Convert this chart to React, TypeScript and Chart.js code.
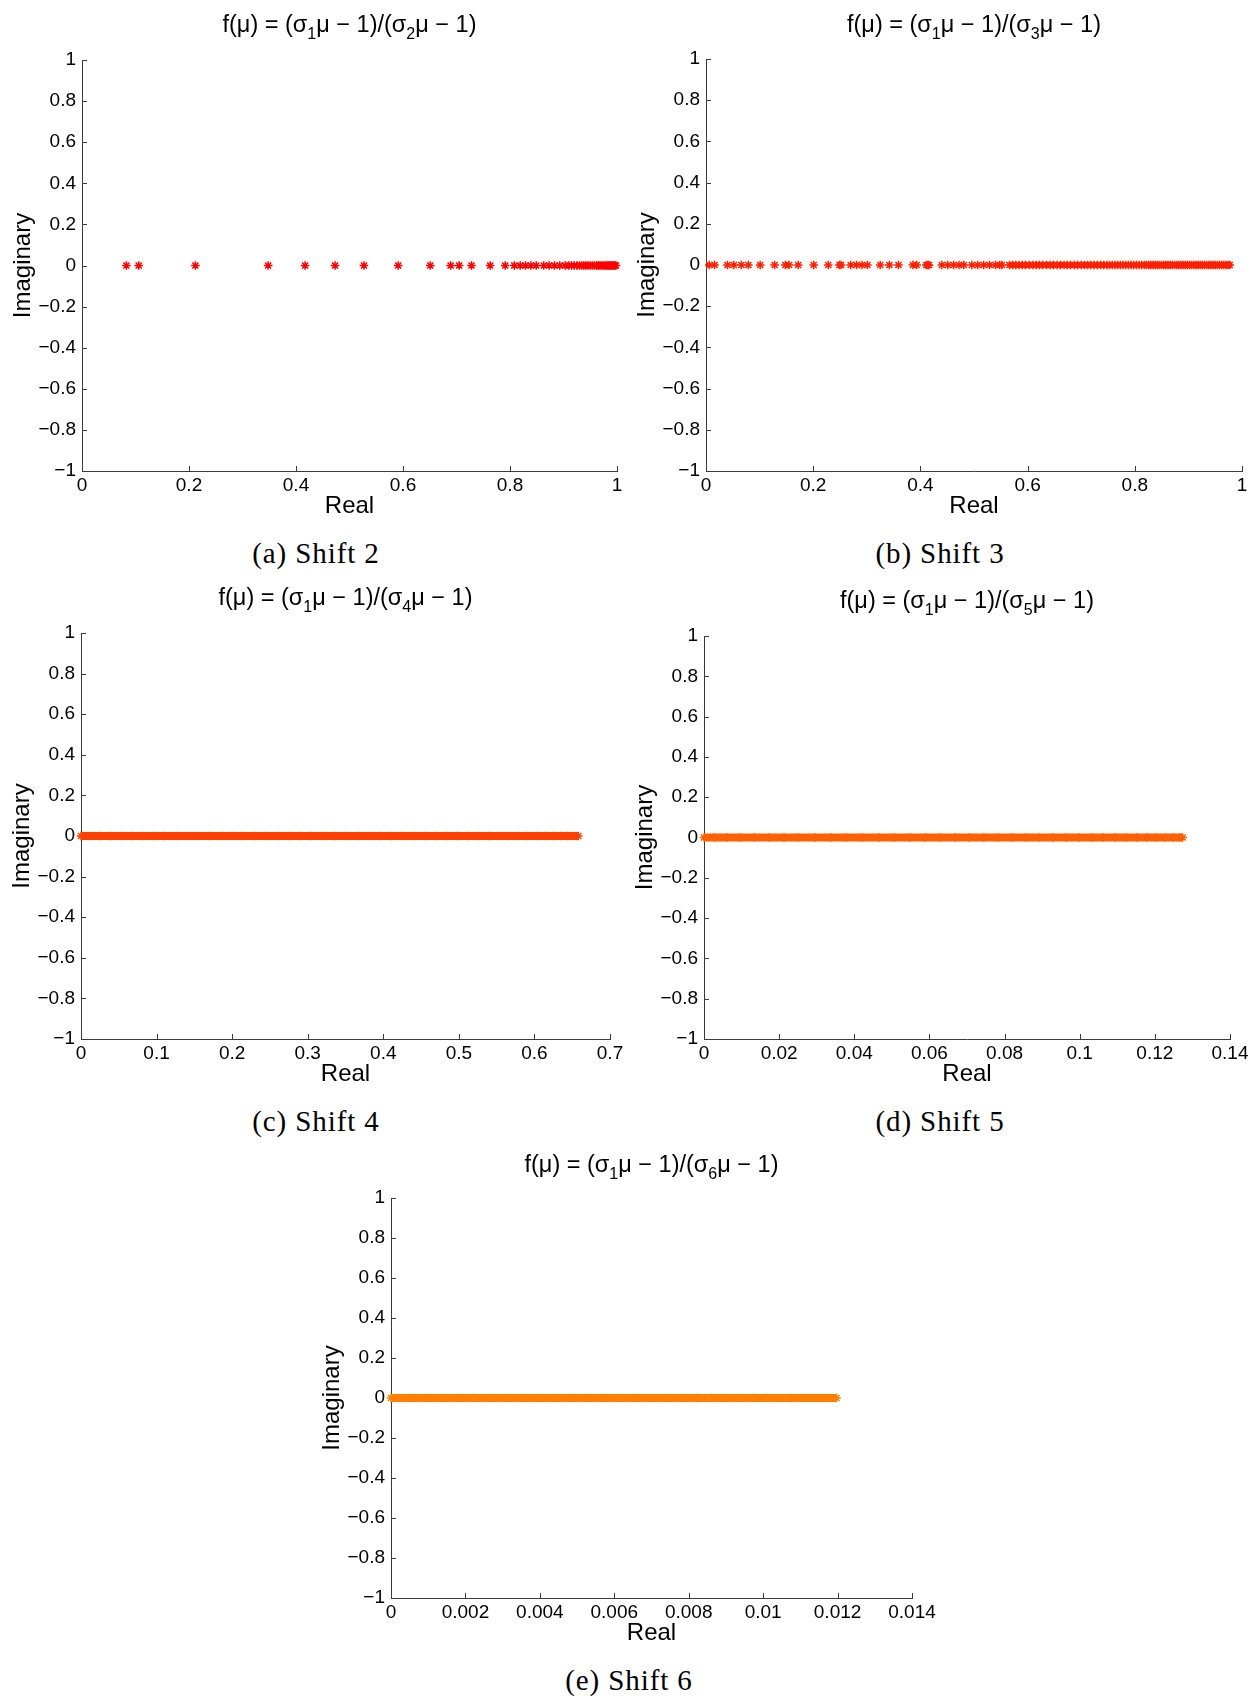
import React, { useEffect, useRef } from "react";
import { Chart, registerables } from "chart.js";

Chart.register(...registerables);

// ---------- data (real parts of the eigenvalues; imaginary parts are all 0) ----------
const shift2Real = [
  0.083, 0.106, 0.212, 0.348, 0.417, 0.473, 0.527, 0.591, 0.651, 0.689, 0.705, 0.728,
  0.763, 0.791, 0.808, 0.819, 0.829, 0.839, 0.849, 0.863, 0.873, 0.883, 0.893, 0.903,
  0.91, 0.915, 0.92, 0.925, 0.93, 0.934, 0.938, 0.942, 0.946, 0.95, 0.954, 0.958, 0.962,
  0.965, 0.968, 0.971, 0.974, 0.977, 0.98, 0.982, 0.984, 0.986, 0.988, 0.99, 0.992,
  0.994, 0.996, 0.998,
];
const shift3Real = [
  0.006, 0.016, 0.04, 0.052, 0.066, 0.079, 0.101, 0.128, 0.148, 0.155, 0.172, 0.201,
  0.228, 0.249, 0.252, 0.27, 0.281, 0.291, 0.301, 0.325, 0.342, 0.359, 0.386, 0.393,
  0.411, 0.414, 0.416, 0.44, 0.451, 0.462, 0.472, 0.481, 0.496, 0.507, 0.518, 0.529,
  0.54, 0.548, 0.552, 0.566, 0.572, 0.578, 0.584, 0.59, 0.596, 0.603, 0.61, 0.616, 0.622,
  0.628, 0.635, 0.642, 0.648, 0.655, 0.661, 0.668, 0.674, 0.68, 0.687, 0.693, 0.7, 0.706,
  0.712, 0.718, 0.724, 0.73, 0.736, 0.742, 0.748, 0.753, 0.758, 0.763, 0.768, 0.773,
  0.778, 0.783, 0.788, 0.793, 0.798, 0.803, 0.808, 0.813, 0.818, 0.822, 0.826, 0.83,
  0.834, 0.838, 0.842, 0.846, 0.85, 0.854, 0.858, 0.862, 0.866, 0.87, 0.874, 0.878,
  0.882, 0.886, 0.89, 0.894, 0.898, 0.902, 0.906, 0.91, 0.914, 0.918, 0.922, 0.926,
  0.93, 0.934, 0.938, 0.942, 0.946, 0.95, 0.954, 0.958, 0.962, 0.966, 0.97, 0.974, 0.977,
];
const shift4Real = [
  0, 0.012, 0.025, 0.04, 0.052, 0.068, 0.083, 0.097, 0.11, 0.126, 0.14, 0.155, 0.17,
  0.186, 0.2, 0.214, 0.23, 0.245, 0.26, 0.276, 0.29, 0.305, 0.32, 0.336, 0.35, 0.366,
  0.38, 0.395, 0.41, 0.425, 0.44, 0.455, 0.47, 0.484, 0.498, 0.512, 0.526, 0.54, 0.553,
  0.566, 0.579, 0.591, 0.603, 0.614, 0.625, 0.635, 0.644, 0.652, 0.658,
];
const shift5Real = [
  0, 0.0028, 0.0061, 0.0097, 0.0134, 0.0172, 0.0213, 0.0251, 0.0296, 0.0338, 0.0379,
  0.0421, 0.0466, 0.0507, 0.0548, 0.0589, 0.0627, 0.0668, 0.0706, 0.0745, 0.0783,
  0.0821, 0.0857, 0.0893, 0.0929, 0.0964, 0.0998, 0.1031, 0.1063, 0.1094, 0.1124,
  0.1152, 0.1179, 0.1204, 0.1228, 0.1249, 0.1266, 0.1274,
];
const shift6Real = [
  0, 0.00024, 0.00061, 0.00098, 0.00139, 0.00181, 0.00222, 0.00266, 0.00309, 0.00352,
  0.00397, 0.0044, 0.00485, 0.00528, 0.00571, 0.00615, 0.00657, 0.00699, 0.00741,
  0.00782, 0.00822, 0.00861, 0.009, 0.00938, 0.00974, 0.01009, 0.01043, 0.01075,
  0.01105, 0.01133, 0.01158, 0.0118, 0.01197,
];
const imagValue = 0;

// ---------- tick labels ----------
const yTicks = [-1, -0.8, -0.6, -0.4, -0.2, 0, 0.2, 0.4, 0.6, 0.8, 1];
const xTicksUnit = [0, 0.2, 0.4, 0.6, 0.8, 1];
const xTicksShift4 = [0, 0.1, 0.2, 0.3, 0.4, 0.5, 0.6, 0.7];
const xTicksShift5 = [0, 0.02, 0.04, 0.06, 0.08, 0.1, 0.12, 0.14];
const xTicksShift6 = [0, 0.002, 0.004, 0.006, 0.008, 0.01, 0.012, 0.014];

// ---------- series colours ----------
const shiftColors = ["#FF0000", "#FF2000", "#FF4000", "#FF6000", "#FF8000"];

const SANS = '"Liberation Sans", Arial, Helvetica, sans-serif';
const SERIF = '"Liberation Serif", "Times New Roman", serif';
const AXIS = "#3a3a3a";

const fmt = (v: number) => String(Number(v.toFixed(6))).replace("-", "\u2212");

const insideTicks = {
  id: "insideTicks",
  beforeDatasetsDraw(chart: any) {
    const { ctx, chartArea, scales } = chart;
    ctx.save();
    ctx.strokeStyle = AXIS;
    ctx.lineWidth = 1;
    scales.x.ticks.forEach((t: any) => {
      const px = Math.round(scales.x.getPixelForValue(t.value)) + 0.5;
      ctx.beginPath();
      ctx.moveTo(px, chartArea.bottom);
      ctx.lineTo(px, chartArea.bottom - 5);
      ctx.stroke();
    });
    scales.y.ticks.forEach((t: any) => {
      const py = Math.round(scales.y.getPixelForValue(t.value)) + 0.5;
      ctx.beginPath();
      ctx.moveTo(chartArea.left, py);
      ctx.lineTo(chartArea.left + 5, py);
      ctx.stroke();
    });
    ctx.restore();
  },
};

type PanelProps = {
  L: number; R: number; T: number; B: number;
  xMax: number; xTicks: number[]; real: number[]; color: string; band: boolean;
  sub: string; titleY: number; caption: string; capX: number; capY: number;
};

const YW = 80;
const PAD_TOP = 24;
const PAD_RIGHT = 34;
const XH = 50;
const BOTTOM_FIX = 2;
const TICK_SIZE = 19;
const LABEL_SIZE = 24;

function Panel(p: PanelProps) {
  const ref = useRef<HTMLCanvasElement | null>(null);
  const cLeft = p.L - YW;
  const cTop = p.T - PAD_TOP;
  const cW = p.R - p.L + YW + PAD_RIGHT;
  const cH = p.B - p.T + PAD_TOP + XH + BOTTOM_FIX;

  useEffect(() => {
    if (!ref.current) return;
    const chart = new Chart(ref.current, {
      type: "scatter",
      data: {
        datasets: [
          {
            data: p.real.map((x) => ({ x, y: imagValue })),
            pointStyle: "star",
            pointRadius: 4.3,
            pointBorderWidth: 1.5,
            pointBorderColor: p.color,
            pointBackgroundColor: p.color,
            showLine: p.band,
            borderColor: p.color,
            borderWidth: 8,
            clip: false as any,
          } as any,
        ],
      },
      options: {
        responsive: false,
        maintainAspectRatio: false,
        animation: false,
        layout: { padding: { left: 0, top: PAD_TOP, right: PAD_RIGHT, bottom: 0 } },
        plugins: {
          legend: { display: false },
          tooltip: { enabled: false },
          title: { display: false },
        },
        scales: {
          x: {
            type: "linear",
            min: 0,
            max: p.xMax,
            afterFit: (s: any) => { s.height = XH; },
            afterBuildTicks: (s: any) => { s.ticks = p.xTicks.map((v) => ({ value: v })); },
            grid: { display: true, drawOnChartArea: false, drawTicks: false },
            border: { display: true, color: AXIS, width: 1 },
            ticks: {
              font: { family: SANS, size: TICK_SIZE },
              color: "#000",
              padding: 3,
              autoSkip: false,
              maxRotation: 0,
              callback: (v: any) => fmt(Number(v)),
            },
            title: {
              display: true,
              text: "Real",
              font: { family: SANS, size: LABEL_SIZE },
              color: "#000",
              padding: { top: 0, bottom: 0 },
            },
          },
          y: {
            type: "linear",
            min: -1,
            max: 1,
            afterFit: (s: any) => { s.width = YW; },
            afterBuildTicks: (s: any) => { s.ticks = yTicks.map((v) => ({ value: v })); },
            grid: { display: true, drawOnChartArea: false, drawTicks: false },
            border: { display: true, color: AXIS, width: 1 },
            ticks: {
              font: { family: SANS, size: TICK_SIZE },
              color: "#000",
              padding: 6,
              autoSkip: false,
              callback: (v: any) => fmt(Number(v)),
            },
            title: {
              display: true,
              text: "Imaginary",
              font: { family: SANS, size: LABEL_SIZE },
              color: "#000",
              padding: { top: 7, bottom: 0 },
            },
          },
        },
      } as any,
      plugins: [insideTicks],
    });
    return () => chart.destroy();
  }, []);

  const titleCx = (p.L + p.R) / 2;
  const subStyle: React.CSSProperties = { fontSize: 16, verticalAlign: "-0.45em", lineHeight: 0 };
  return (
    <>
      <canvas
        ref={ref}
        width={cW}
        height={cH}
        style={{ position: "absolute", left: cLeft, top: cTop, width: cW, height: cH }}
      />
      <div
        style={{
          position: "absolute",
          left: titleCx - 300,
          width: 600,
          top: p.titleY - 14,
          height: 28,
          lineHeight: "28px",
          textAlign: "center",
          fontFamily: SANS,
          fontSize: 23.5,
          color: "#000",
          whiteSpace: "nowrap",
        }}
      >
        f(μ) = (σ<sub style={subStyle}>1</sub>μ − 1)/(σ<sub style={subStyle}>{p.sub}</sub>μ − 1)
      </div>
      <div
        style={{
          position: "absolute",
          left: p.capX - 150,
          width: 300,
          top: p.capY - 18,
          height: 36,
          lineHeight: "36px",
          textAlign: "center",
          fontFamily: SERIF,
          fontSize: 29,
          letterSpacing: "0.9px",
          color: "#000",
          whiteSpace: "nowrap",
        }}
      >
        {p.caption}
      </div>
    </>
  );
}

export default function App() {
  return (
    <div
      style={{
        position: "absolute",
        left: 0,
        top: 0,
        width: 1250,
        height: 1696,
        background: "#fff",
        overflow: "hidden",
      }}
    >
      <Panel L={82} R={617} T={60} B={469} xMax={1} xTicks={xTicksUnit} real={shift2Real}
        color={shiftColors[0]} band={false} sub="2" titleY={24} caption="(a) Shift 2" capX={316} capY={553} />
      <Panel L={706} R={1242} T={59} B={469} xMax={1} xTicks={xTicksUnit} real={shift3Real}
        color={shiftColors[1]} band={false} sub="3" titleY={24} caption="(b) Shift 3" capX={940} capY={553} />
      <Panel L={81} R={610} T={633} B={1037} xMax={0.7} xTicks={xTicksShift4} real={shift4Real}
        color={shiftColors[2]} band={true} sub="4" titleY={597} caption="(c) Shift 4" capX={316} capY={1121} />
      <Panel L={704} R={1230} T={636} B={1037} xMax={0.14} xTicks={xTicksShift5} real={shift5Real}
        color={shiftColors[3]} band={true} sub="5" titleY={600} caption="(d) Shift 5" capX={940} capY={1121} />
      <Panel L={391} R={912} T={1198} B={1596} xMax={0.014} xTicks={xTicksShift6} real={shift6Real}
        color={shiftColors[4]} band={true} sub="6" titleY={1164} caption="(e) Shift 6" capX={629} capY={1680} />
    </div>
  );
}
